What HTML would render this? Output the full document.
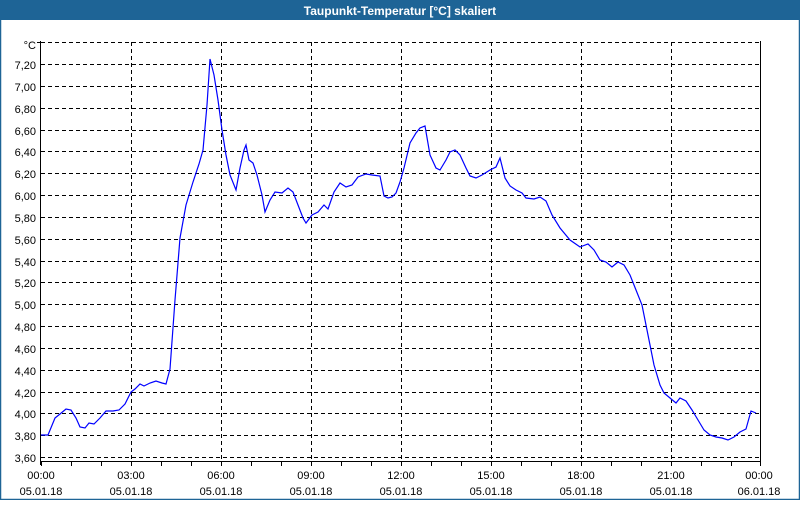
<!DOCTYPE html>
<html><head><meta charset="utf-8"><style>
html,body{margin:0;padding:0;background:#fff}
body{width:800px;height:500px;overflow:hidden;font-family:"Liberation Sans","DejaVu Sans",sans-serif}
</style></head><body>
<svg width="800" height="500" xmlns="http://www.w3.org/2000/svg" font-family="Liberation Sans, DejaVu Sans, sans-serif">
<rect x="0" y="0" width="800" height="500" fill="#fff"/>
<rect x="0.5" y="0.5" width="799" height="499" fill="none" stroke="#1e6496" stroke-width="1.5"/>
<rect x="0" y="0" width="800" height="20" fill="#1e6496"/>
<text x="400" y="15" fill="#fff" font-size="12" font-weight="bold" text-anchor="middle">Taupunkt-Temperatur [°C] skaliert</text>
<g stroke="#000" stroke-width="1" stroke-dasharray="4,3">
<line x1="41" y1="42.5" x2="761" y2="42.5"/>
<line x1="41" y1="64.5" x2="761" y2="64.5"/>
<line x1="41" y1="86.5" x2="761" y2="86.5"/>
<line x1="41" y1="108.5" x2="761" y2="108.5"/>
<line x1="41" y1="130.5" x2="761" y2="130.5"/>
<line x1="41" y1="151.5" x2="761" y2="151.5"/>
<line x1="41" y1="173.5" x2="761" y2="173.5"/>
<line x1="41" y1="195.5" x2="761" y2="195.5"/>
<line x1="41" y1="217.5" x2="761" y2="217.5"/>
<line x1="41" y1="239.5" x2="761" y2="239.5"/>
<line x1="41" y1="261.5" x2="761" y2="261.5"/>
<line x1="41" y1="282.5" x2="761" y2="282.5"/>
<line x1="41" y1="304.5" x2="761" y2="304.5"/>
<line x1="41" y1="326.5" x2="761" y2="326.5"/>
<line x1="41" y1="348.5" x2="761" y2="348.5"/>
<line x1="41" y1="370.5" x2="761" y2="370.5"/>
<line x1="41" y1="392.5" x2="761" y2="392.5"/>
<line x1="41" y1="413.5" x2="761" y2="413.5"/>
<line x1="41" y1="435.5" x2="761" y2="435.5"/>
<line x1="41" y1="457.5" x2="761" y2="457.5"/>
<line x1="131.5" y1="42" x2="131.5" y2="461"/>
<line x1="221.5" y1="42" x2="221.5" y2="461"/>
<line x1="311.5" y1="42" x2="311.5" y2="461"/>
<line x1="401.5" y1="42" x2="401.5" y2="461"/>
<line x1="491.5" y1="42" x2="491.5" y2="461"/>
<line x1="581.5" y1="42" x2="581.5" y2="461"/>
<line x1="671.5" y1="42" x2="671.5" y2="461"/>
</g>
<g stroke="#000" stroke-width="1">
<line x1="40.5" y1="41" x2="40.5" y2="465"/>
<line x1="760.5" y1="41" x2="760.5" y2="461"/>
<line x1="40" y1="461.5" x2="761" y2="461.5"/>
<line x1="37" y1="42.5" x2="41" y2="42.5"/>
</g>
<g stroke="#000" stroke-width="1" id="ticks"></g>
<polyline fill="none" stroke="#0000ff" stroke-width="1.2" points="41,435 48,435 55,418 60,414 66,409 71,410 76,418 80,427 85,428 89,423 94,424 100,418 106,411 113,411 119,410 125,404 131,392 135,389 140,384 144,386 150,383 156,381 162,383 166,384 170,369 175,300 180,238 186,205 193,182 199,164 203,150 207,105 210,59 214,75 218,100 222,130 226,155 230,175 236,190 240,168 244,150 246,145 249,160 253,163 257,175 262,195 265,212 270,200 275,192 282,193 288,188 293,192 298,205 303,218 306,223 312,215 318,212 324,205 328,209 334,192 340,183 346,187 352,185 358,177 366,174 372,175 380,176 384,196 388,198 392,197 396,193 400,182 404,168 410,143 416,133 420,128 425,126 430,155 436,168 440,170 446,160 450,152 455,150 460,155 466,168 470,176 476,178 482,175 490,170 496,167 500,158 505,178 510,186 516,190 522,193 526,198 534,199 540,197 546,201 552,215 560,228 570,240 580,247 588,244 594,250 600,260 606,262 612,267 618,262 624,265 630,275 636,290 642,305 648,335 654,365 660,385 664,393 670,398 676,403 680,398 686,401 692,410 698,420 704,430 710,435 716,437 722,438 728,440 734,437 740,432 746,429 751,411 756,413"/>
<g font-size="11" fill="#000" text-anchor="end">
<text x="36" y="49">°C</text>
<text x="36" y="69">7,20</text><text x="36" y="91">7,00</text><text x="36" y="113">6,80</text><text x="36" y="135">6,60</text>
<text x="36" y="156">6,40</text><text x="36" y="178">6,20</text><text x="36" y="200">6,00</text><text x="36" y="222">5,80</text>
<text x="36" y="244">5,60</text><text x="36" y="266">5,40</text><text x="36" y="287">5,20</text><text x="36" y="309">5,00</text>
<text x="36" y="331">4,80</text><text x="36" y="353">4,60</text><text x="36" y="375">4,40</text><text x="36" y="397">4,20</text>
<text x="36" y="418">4,00</text><text x="36" y="440">3,80</text><text x="36" y="462">3,60</text>
</g>
<g font-size="11" fill="#000" text-anchor="middle">
<text x="41" y="479">00:00</text><text x="41" y="495">05.01.18</text>
<text x="131" y="479">03:00</text><text x="131" y="495">05.01.18</text>
<text x="221" y="479">06:00</text><text x="221" y="495">05.01.18</text>
<text x="311" y="479">09:00</text><text x="311" y="495">05.01.18</text>
<text x="401" y="479">12:00</text><text x="401" y="495">05.01.18</text>
<text x="491" y="479">15:00</text><text x="491" y="495">05.01.18</text>
<text x="581" y="479">18:00</text><text x="581" y="495">05.01.18</text>
<text x="671" y="479">21:00</text><text x="671" y="495">05.01.18</text>
<text x="759" y="479">00:00</text><text x="759" y="495">06.01.18</text>
</g>
<path stroke="#000" stroke-width="1" d="M41.5 461v5M71.5 461v5M101.5 461v5M131.5 461v5M161.5 461v5M191.5 461v5M221.5 461v5M251.5 461v5M281.5 461v5M311.5 461v5M341.5 461v5M371.5 461v5M401.5 461v5M431.5 461v5M461.5 461v5M491.5 461v5M521.5 461v5M551.5 461v5M581.5 461v5M611.5 461v5M641.5 461v5M671.5 461v5M701.5 461v5M731.5 461v5M760.5 461v5"/>
</svg>
</body></html>
